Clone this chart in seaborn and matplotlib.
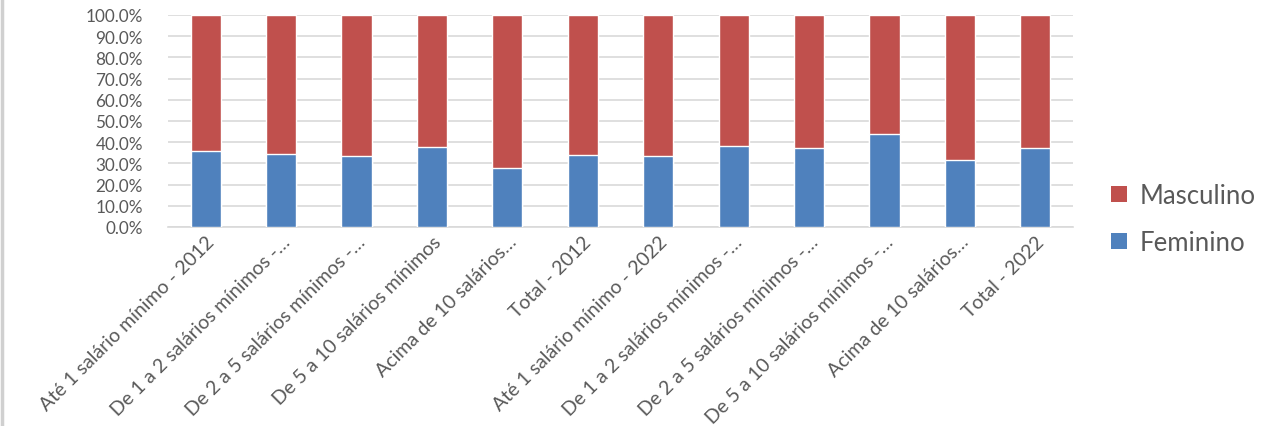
import matplotlib
matplotlib.use("Agg")
import matplotlib.pyplot as plt
import seaborn as sns
import pandas as pd
from matplotlib.patches import Patch
from matplotlib.ticker import FuncFormatter, MultipleLocator
from matplotlib.lines import Line2D

categorias = [
    "Até 1 salário mínimo - 2012",
    "De 1 a 2 salários mínimos -…",
    "De 2 a 5 salários mínimos -…",
    "De 5 a 10 salários mínimos",
    "Acima de 10 salários…",
    "Total - 2012",
    "Até 1 salário mínimo - 2022",
    "De 1 a 2 salários mínimos -…",
    "De 2 a 5 salários mínimos -…",
    "De 5 a 10 salários mínimos -…",
    "Acima de 10 salários…",
    "Total - 2022",
]
feminino = [36.0, 34.3, 33.5, 37.9, 27.7, 34.0, 33.4, 38.1, 37.1, 43.7, 31.5, 37.1]
masculino = [64.0, 65.7, 66.5, 62.1, 72.3, 66.0, 66.6, 61.9, 62.9, 56.3, 68.5, 62.9]

AZUL = "#4F81BD"
VERMELHO = "#C0504D"
CINZA = "#595959"

sns.set_theme(style="white")
plt.rcParams["font.family"] = ["Lato", "DejaVu Sans"]

df = pd.DataFrame({
    "cat": [f"{i}" for i in range(len(categorias))],
    "fem": feminino,
    "total": [f + m for f, m in zip(feminino, masculino)],
})

fig = plt.figure(figsize=(12.64, 4.27), dpi=100)
ax = fig.add_axes([168 / 1264, 1 - 228 / 427, (1073 - 168) / 1264, (228 - 16) / 427])

sns.barplot(data=df, x="cat", y="total", color=VERMELHO, saturation=1, width=0.4, ax=ax, zorder=3)
sns.barplot(data=df, x="cat", y="fem", color=AZUL, saturation=1, width=0.4, ax=ax, zorder=3)

ax.set_ylim(0, 100)
ax.set_xlim(-0.5, len(categorias) - 0.5)
ax.yaxis.set_major_locator(MultipleLocator(10))
ax.yaxis.set_major_formatter(FuncFormatter(lambda v, p: f"{v:.1f}%"))
ax.grid(axis="y", color="#D9D9D9", linewidth=1.2, zorder=0)
ax.set_axisbelow(True)
for s in ["top", "right", "left"]:
    ax.spines[s].set_visible(False)
ax.spines["bottom"].set_color("#D9D9D9")
ax.spines["bottom"].set_linewidth(1.2)
ax.set_xlabel("")
ax.set_ylabel("")
ax.set_xticks(range(len(categorias)))
ax.set_xticklabels(categorias, rotation=45, ha="right", rotation_mode="anchor",
                   fontsize=14, color=CINZA)
ax.tick_params(axis="x", length=0, pad=4)
ax.tick_params(axis="y", length=0, pad=18, labelsize=12.3, labelcolor=CINZA)

handles = [Patch(facecolor=VERMELHO, edgecolor="none", label="Masculino"),
           Patch(facecolor=AZUL, edgecolor="none", label="Feminino")]
fig.legend(handles=handles, loc="center left", bbox_to_anchor=(1088 / 1264, 1 - 220 / 427),
           frameon=False, fontsize=18.5, handlelength=0.6, handleheight=0.6,
           handletextpad=0.5, labelspacing=0.85, labelcolor=CINZA)

fig.add_artist(Line2D([1.5 / 1264, 1.5 / 1264], [0, 1], color="#D0D0D0", linewidth=2.5))

fig.savefig("out.png", dpi=100)
